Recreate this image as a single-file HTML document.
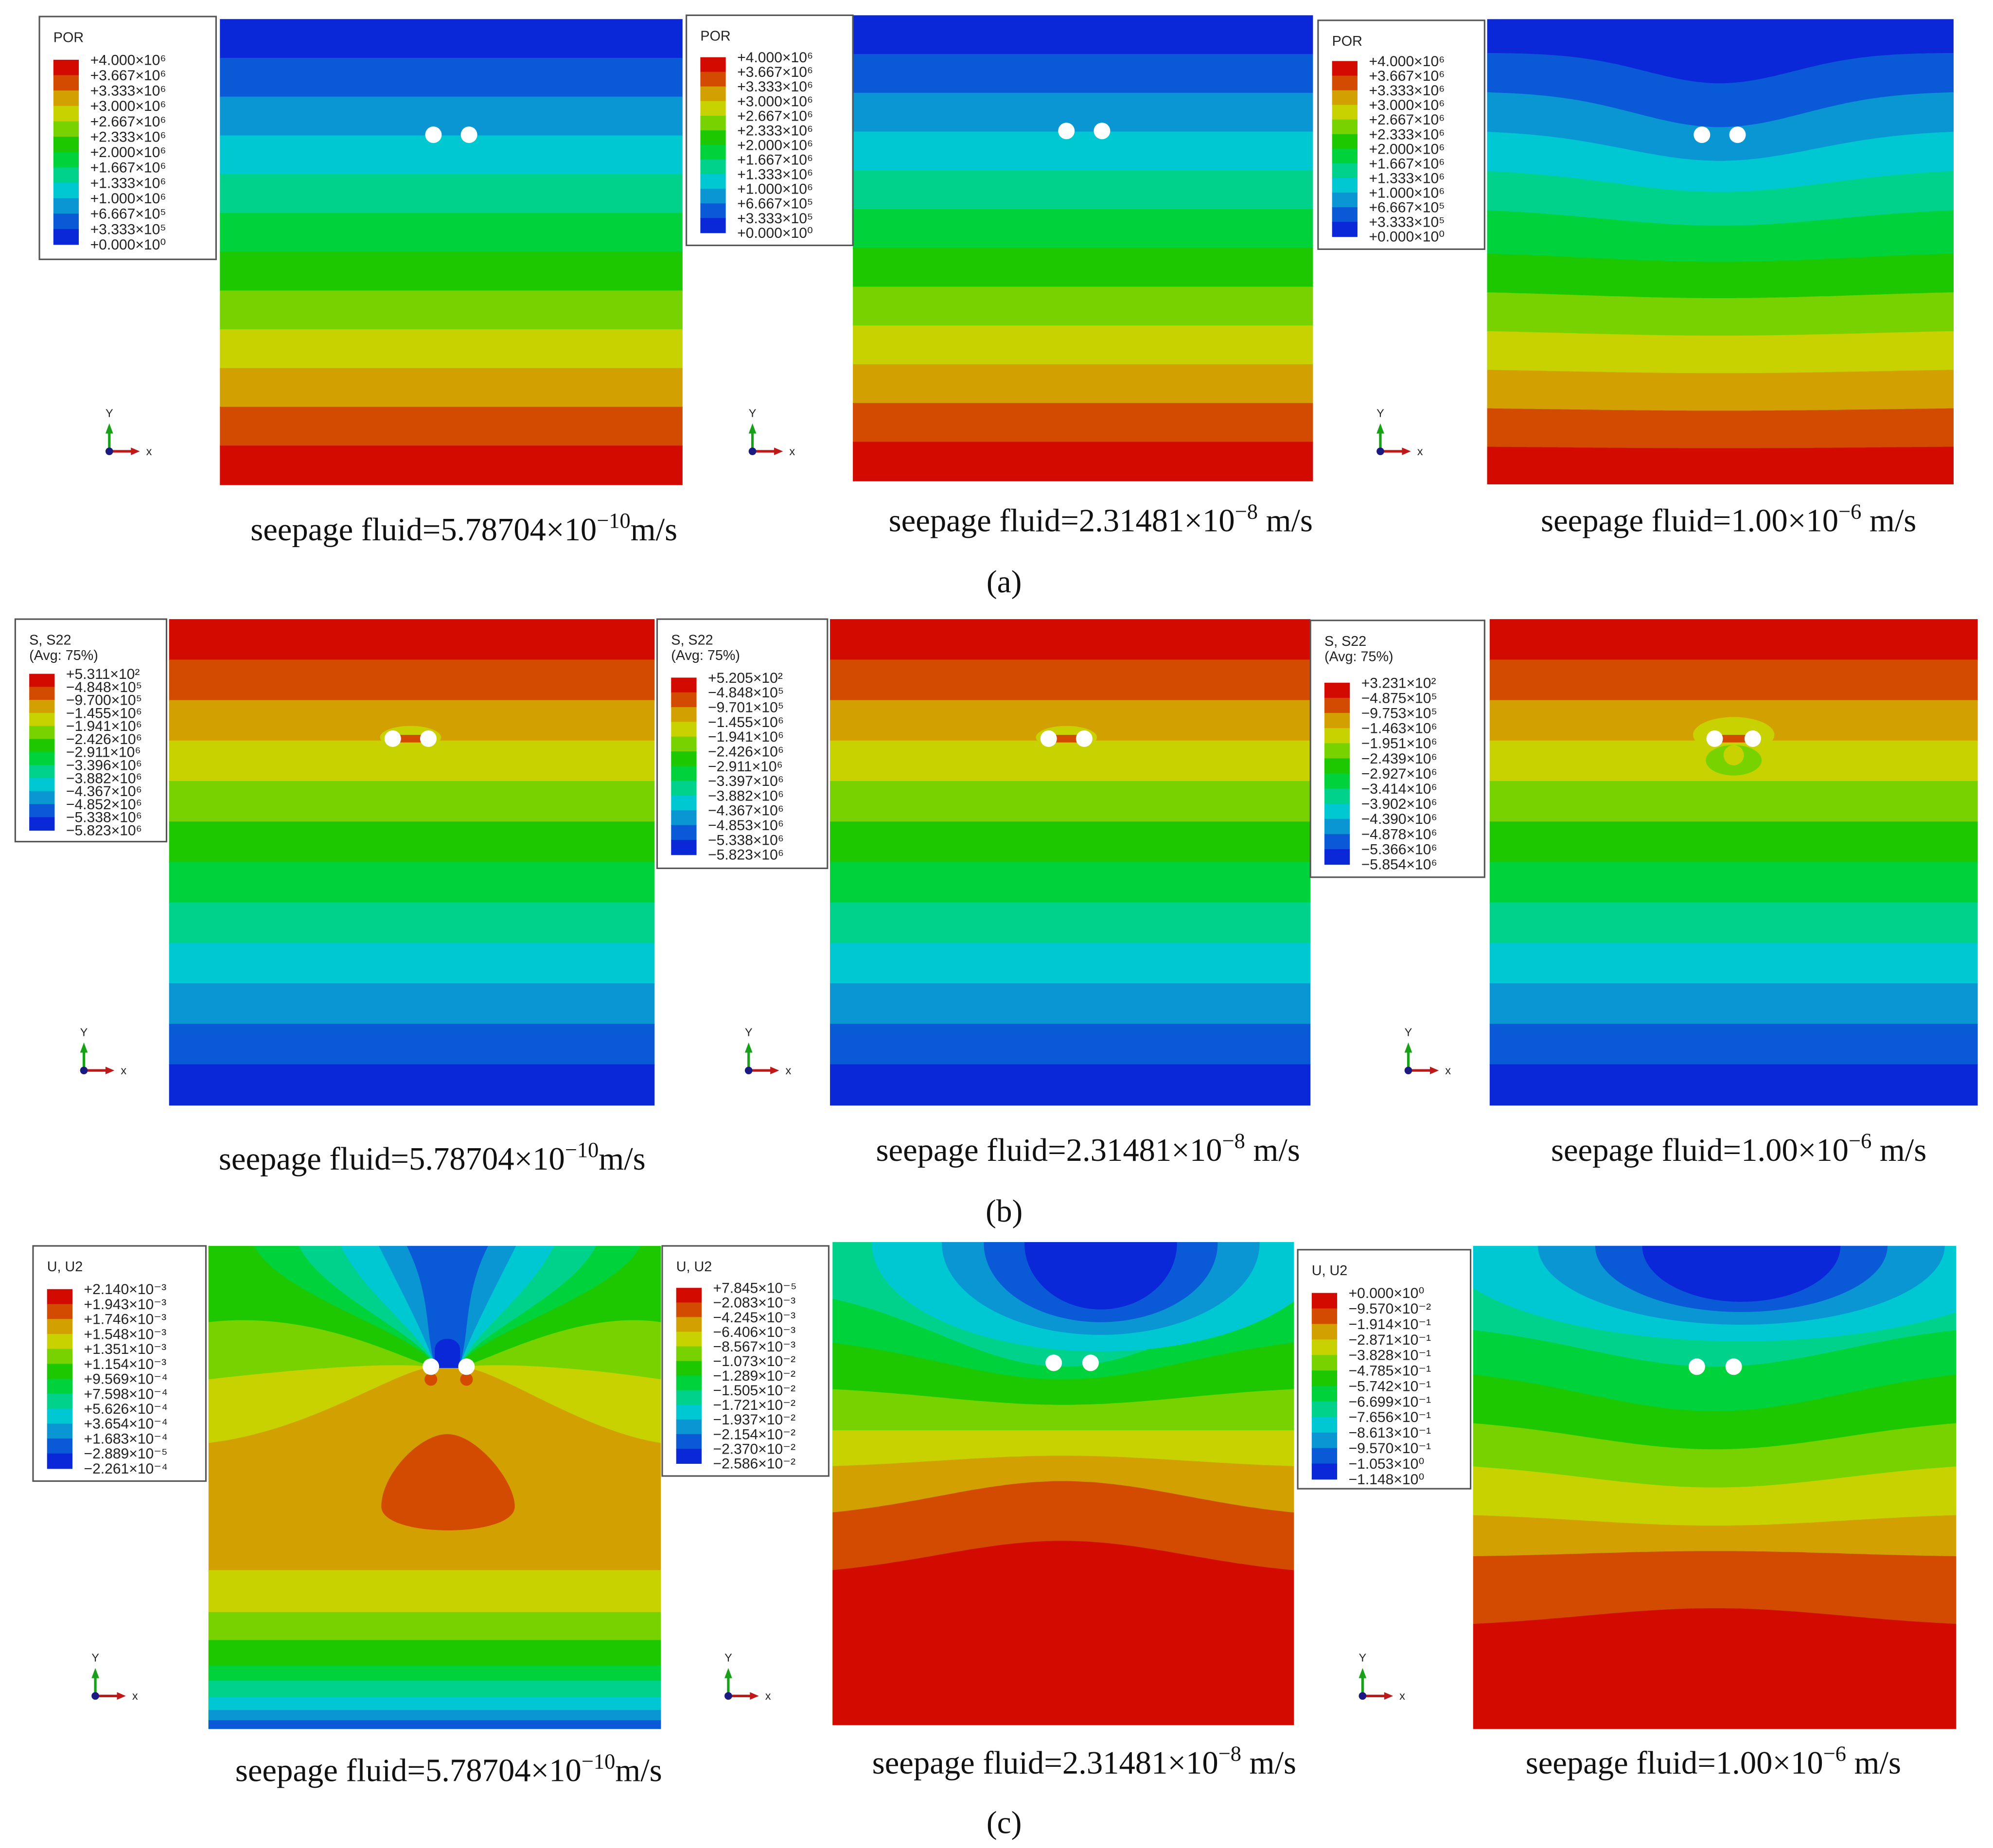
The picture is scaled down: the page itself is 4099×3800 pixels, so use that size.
<!DOCTYPE html>
<html><head><meta charset="utf-8">
<style>
html,body{margin:0;padding:0;background:#fff;}
svg{display:block;}
</style></head>
<body>
<svg id="fig" xmlns="http://www.w3.org/2000/svg" width="4099" height="3800" viewBox="0 0 1568 1453.6" preserveAspectRatio="none">
<rect x="0" y="0" width="1568" height="1454" fill="#fff"/>
<defs>
<clipPath id="clipC2"><rect x="655" y="977" width="363" height="380"/></clipPath>
<clipPath id="clipC3"><rect x="1159" y="980" width="380" height="380"/></clipPath>
<clipPath id="clipC1"><rect x="164" y="980" width="356" height="380"/></clipPath>
<clipPath id="clipA3"><rect x="1170" y="15" width="367" height="366"/></clipPath>
</defs>
</svg>
<script>
const NS='http://www.w3.org/2000/svg';
const svg=document.getElementById('fig');
// contour colour scale (index 0 = minimum/blue, 11 = maximum/red)
const bandColors=["#0a28d8","#0a5ad8","#0a96d2","#00c8d2","#00d28c","#00d23c","#1ec800","#78d200","#c8d200","#d2a000","#d24b00","#d20a00"];
// legend labels
const legendA=["+4.000×10⁶","+3.667×10⁶","+3.333×10⁶","+3.000×10⁶","+2.667×10⁶","+2.333×10⁶","+2.000×10⁶","+1.667×10⁶","+1.333×10⁶","+1.000×10⁶","+6.667×10⁵","+3.333×10⁵","+0.000×10⁰"];
const legendB1=["+5.311×10²","−4.848×10⁵","−9.700×10⁵","−1.455×10⁶","−1.941×10⁶","−2.426×10⁶","−2.911×10⁶","−3.396×10⁶","−3.882×10⁶","−4.367×10⁶","−4.852×10⁶","−5.338×10⁶","−5.823×10⁶"];
const legendB2=["+5.205×10²","−4.848×10⁵","−9.701×10⁵","−1.455×10⁶","−1.941×10⁶","−2.426×10⁶","−2.911×10⁶","−3.397×10⁶","−3.882×10⁶","−4.367×10⁶","−4.853×10⁶","−5.338×10⁶","−5.823×10⁶"];
const legendB3=["+3.231×10²","−4.875×10⁵","−9.753×10⁵","−1.463×10⁶","−1.951×10⁶","−2.439×10⁶","−2.927×10⁶","−3.414×10⁶","−3.902×10⁶","−4.390×10⁶","−4.878×10⁶","−5.366×10⁶","−5.854×10⁶"];
const legendC1=["+2.140×10⁻³","+1.943×10⁻³","+1.746×10⁻³","+1.548×10⁻³","+1.351×10⁻³","+1.154×10⁻³","+9.569×10⁻⁴","+7.598×10⁻⁴","+5.626×10⁻⁴","+3.654×10⁻⁴","+1.683×10⁻⁴","−2.889×10⁻⁵","−2.261×10⁻⁴"];
const legendC2=["+7.845×10⁻⁵","−2.083×10⁻³","−4.245×10⁻³","−6.406×10⁻³","−8.567×10⁻³","−1.073×10⁻²","−1.289×10⁻²","−1.505×10⁻²","−1.721×10⁻²","−1.937×10⁻²","−2.154×10⁻²","−2.370×10⁻²","−2.586×10⁻²"];
const legendC3=["+0.000×10⁰","−9.570×10⁻²","−1.914×10⁻¹","−2.871×10⁻¹","−3.828×10⁻¹","−4.785×10⁻¹","−5.742×10⁻¹","−6.699×10⁻¹","−7.656×10⁻¹","−8.613×10⁻¹","−9.570×10⁻¹","−1.053×10⁰","−1.148×10⁰"];
// arched band boundaries for U2 plots: [edge y, centre y]
const c2Edge=[1010,1050,1090,1125,1155,1195,1240];
const c2Center=[1075,1085,1105,1125,1145,1165,1212];
const c3Edge=[1040,1075,1115,1150,1190,1225,1280];
const c3Center=[1075,1110,1140,1170,1200,1220,1265];
// a3 band dips (px) at the centre for each boundary
const a3Dip=[20,24,20,14,10,8,6,5,4,3,2];

function mk(tag,attrs,parent){const e=document.createElementNS(NS,tag);for(const k in attrs)e.setAttribute(k,attrs[k]);(parent||svg).appendChild(e);return e;}
function xsteps(x,w,st){const a=[];for(let xx=x;xx<x+w;xx+=st)a.push(xx);a.push(x+w);return a;}

function flatBands(x,y,w,h,reverse,name){
  const g=mk('g',{});
  
  
  const bh=h/12;
  for(let i=0;i<12;i++){
    const c=reverse?bandColors[11-i]:bandColors[i];
    const r=mk('rect',{x:x,y:y+i*bh,width:w,height:bh+0.6,fill:c},g);
    
    
  }
  return g;
}
function holes(pts,name){
  pts.forEach(p=>{
    const c=mk('circle',{cx:p[0],cy:p[1],r:6.5,fill:'#fff'});
    
    
  });
}
function legend(x,y,w,h,titles,labels,swTop,swH,name){
  const g=mk('g',{});
  
  
  mk('rect',{x:x,y:y,width:w,height:h,fill:'#fff',stroke:'#555','stroke-width':1.2},g);
  titles.forEach((t,i)=>{
    const tx=mk('text',{x:x+11,y:y+20+i*12,'font-family':'Liberation Sans, sans-serif','font-size':11,fill:'#222'},g);
    tx.textContent=t;
    
    
  });
  for(let i=0;i<12;i++){
    const r=mk('rect',{x:x+11,y:swTop+i*swH,width:20,height:swH+0.4,fill:bandColors[11-i]},g);
    
    
  }
  labels.forEach((t,i)=>{
    const tx=mk('text',{x:x+40,y:swTop+i*swH+4,'font-family':'Liberation Sans, sans-serif','font-size':11.5,fill:'#222'},g);
    tx.textContent=t;
    
    
  });
}
function triad(x,y){
  const g=mk('g',{});
  
  
  mk('line',{x1:x,y1:y,x2:x,y2:y-18,stroke:'#18a018','stroke-width':2},g);
  mk('polygon',{points:`${x-3},${y-14} ${x+3},${y-14} ${x},${y-22}`,fill:'#18a018'},g);
  mk('line',{x1:x,y1:y,x2:x+20,y2:y,stroke:'#c01818','stroke-width':2},g);
  mk('polygon',{points:`${x+17},${y-3} ${x+17},${y+3} ${x+24},${y}`,fill:'#c01818'},g);
  mk('circle',{cx:x,cy:y,r:3,fill:'#1a1a80'},g);
  const ty=mk('text',{x:x-3,y:y-27,'font-family':'Liberation Sans, sans-serif','font-size':9,fill:'#222'},g);ty.textContent='Y';
  const tx=mk('text',{x:x+29,y:y+3,'font-family':'Liberation Sans, sans-serif','font-size':9,fill:'#222'},g);tx.textContent='x';
}
function caption(cx,y,exp,name){
  const t=mk('text',{x:cx,y:y,'text-anchor':'middle','font-family':'Liberation Serif, serif','font-size':25.5,fill:'#111'});
  
  
  const a=mk('tspan',{},t);a.textContent=exp[0];
  const b=mk('tspan',{dy:-10,'font-size':17},t);b.textContent=exp[1];
  const c=mk('tspan',{dy:10},t);c.textContent=exp[2];
}
function label(x,y,s,name){
  const t=mk('text',{x:x,y:y,'text-anchor':'middle','font-family':'Liberation Serif, serif','font-size':25,fill:'#111'});
  t.textContent=s;
  
  
}
function archBands(x,w,bottom,cx,edges,centers,clip,name){
  const g=mk('g',{'clip-path':`url(#${clip})`});
  
  
  const cols=["#00d23c","#1ec800","#78d200","#c8d200","#d2a000","#d24b00","#d20a00"];
  for(let k=0;k<edges.length;k++){
    let d='';
    xsteps(x,w,4).forEach((xx,i)=>{
      const f=Math.exp(-Math.pow((xx-cx)/(w*0.38),2));
      const yy=edges[k]+(centers[k]-edges[k])*f;
      d+=(i===0?'M':'L')+xx+','+yy.toFixed(1);
    });
    d+=`L${x+w},${bottom}L${x},${bottom}Z`;
    const p=mk('path',{d:d,fill:cols[k]},g);
    
    
  }
  return g;
}
function blob(cx,cy,rings,clip,name){
  const g=mk('g',{'clip-path':`url(#${clip})`});
  
  
  const cols=["#00c8d2","#0a96d2","#0a5ad8","#0a28d8"];
  rings.forEach((r,i)=>{
    const e=mk('ellipse',{cx:cx,cy:cy,rx:r[0],ry:r[1],fill:cols[i]},g);
    
    
  });
}

/* ---------- (a) POR ---------- */
flatBands(173,15,364,366,false,'plot-a1');
holes([[341,106],[369,106]],'hole');
legend(31,13,139,191,['POR'],legendA,47,12.1,'legend-a1');
triad(86,355);
caption(365,425,['seepage fluid=5.78704×10','−10','m/s'],'caption-a1');

flatBands(671,12,362,366,false,'plot-a2');
holes([[839,103],[867,103]],'hole');
legend(540,12,131,181,['POR'],legendA,45,11.5,'legend-a2');
triad(592,355);
caption(866,418,['seepage fluid=2.31481×10','−8',' m/s'],'caption-a2');

(function(){
  const x=1170,y=15,w=367,h=366,cx=1353;
  const g=mk('g',{'clip-path':'url(#clipA3)'});
  
  
  mk('rect',{x:x,y:y,width:w,height:h,fill:bandColors[0]},g);
  for(let k=1;k<12;k++){
    let d='';
    xsteps(x,w,3).forEach((xx,i)=>{
      const f=Math.exp(-Math.pow((xx-cx)/(70+k*12),2));
      const yy=y+k*h/12+a3Dip[k-1]*f-4*(1-f)*(k<6?1:0);
      d+=(i===0?'M':'L')+xx+','+yy.toFixed(1);
    });
    d+=`L${x+w},${y+h}L${x},${y+h}Z`;
    const p=mk('path',{d:d,fill:bandColors[k]},g);
    
    
  }
})();
holes([[1339,106],[1367,106]],'hole');
legend(1037,16,131,180,['POR'],legendA,48,11.5,'legend-a3');
triad(1086,355);
caption(1360,418,['seepage fluid=1.00×10','−6',' m/s'],'caption-a3');
label(790,466,'(a)','panel-label-a');

/* ---------- (b) S22 ---------- */
flatBands(133,487,382,382,true,'plot-b1');
mk('ellipse',{cx:323,cy:580,rx:24,ry:9,fill:'#c8d200'});
mk('rect',{x:313,y:578,width:20,height:6,fill:'#d24b00'});
holes([[309,581],[337,581]],'hole');
legend(12,487,119,175,['S, S22','(Avg: 75%)'],legendB1,530,10.25,'legend-b1');
triad(66,842);
caption(340,920,['seepage fluid=5.78704×10','−10','m/s'],'caption-b1');

flatBands(653,487,378,382,true,'plot-b2');
mk('ellipse',{cx:839,cy:580,rx:24,ry:9,fill:'#c8d200'});
mk('rect',{x:829,y:578,width:20,height:6,fill:'#d24b00'});
holes([[825,581],[853,581]],'hole');
legend(517,487,134,196,['S, S22','(Avg: 75%)'],legendB2,533,11.6,'legend-b2');
triad(589,842);
caption(856,913,['seepage fluid=2.31481×10','−8',' m/s'],'caption-b2');

flatBands(1172,487,384,382,true,'plot-b3');
mk('ellipse',{cx:1364,cy:578,rx:32,ry:14,fill:'#c8d200'});
mk('ellipse',{cx:1364,cy:598,rx:22,ry:12,fill:'#78d200'});
mk('circle',{cx:1364,cy:594,r:8,fill:'#c8d200'});
mk('rect',{x:1353,y:578,width:22,height:6,fill:'#d24b00'});
holes([[1349,581],[1379,581]],'hole');
legend(1031,488,137,202,['S, S22','(Avg: 75%)'],legendB3,537,11.9,'legend-b3');
triad(1108,842);
caption(1368,913,['seepage fluid=1.00×10','−6',' m/s'],'caption-b3');
label(790,961,'(b)','panel-label-b');

/* ---------- (c) U2 ---------- */
(function(){
  const g=mk('g',{'clip-path':'url(#clipC1)'});
  
  
  mk('rect',{x:164,y:980,width:356,height:380,fill:'#d2a000'},g);
  const hx=352,hy=1076;
  const side=[[1135,'#c8d200'],[1085,'#78d200'],[1040,'#1ec800']];
  side.forEach(s=>{
    const yl=s[0];
    const d=`M164,980L164,${yl}C${250},${yl-10} ${320},${hy-5} ${hx-8},${hy}L${hx+8},${hy}C${384},${hy-5} ${454},${yl-10} 520,${yl}L520,980Z`;
    const p=mk('path',{d:d,fill:s[1]},g);
    
    
  });
  const top=[[200,'#00d23c'],[235,'#00d28c'],[268,'#00c8d2'],[298,'#0a96d2'],[320,'#0a5ad8']];
  top.forEach(t=>{
    const xl=t[0],xr=2*hx-xl;
    const d=`M${xl},980C${xl+20},1020 ${hx-18},1050 ${hx-9},${hy}L${hx+9},${hy}C${hx+18},1050 ${xr-20},1020 ${xr},980Z`;
    const p=mk('path',{d:d,fill:t[1]},g);
    
    
  });
  const dk=mk('path',{d:`M342,1062C342,1050 362,1050 362,1062L362,1076L342,1076Z`,fill:'#0a28d8'},g);
  
  
  const r=mk('path',{d:'M300,1185C300,1160 330,1128 352,1128C375,1128 405,1165 405,1185C405,1210 300,1210 300,1185Z',fill:'#d24b00'},g);
  
  
  mk('circle',{cx:339,cy:1085,r:5,fill:'#d24b00'},g);
  mk('circle',{cx:367,cy:1085,r:5,fill:'#d24b00'},g);
  const bot=[[1235,'#c8d200'],[1268,'#78d200'],[1290,'#1ec800'],[1310,'#00d23c'],[1322,'#00d28c'],[1335,'#00c8d2'],[1345,'#0a96d2'],[1353,'#0a5ad8']];
  bot.forEach(b=>{
    const p=mk('rect',{x:164,y:b[0],width:356,height:1360-b[0],fill:b[1]},g);
    
    
  });
})();
holes([[339,1075],[367,1075]],'hole');
legend(26,980,136,185,['U, U2'],legendC1,1014,11.75,'legend-c1');
triad(75,1334);
caption(353,1401,['seepage fluid=5.78704×10','−10','m/s'],'caption-c1');

mk('rect',{x:655,y:977,width:363,height:380,fill:'#00d28c'});
archBands(655,363,1357,836,c2Edge,c2Center,'clipC2','plot-c2');
blob(866,978,[[180,85],[125,72],[92,62],[60,52]],'clipC2','top-blob-c2');
holes([[829,1072],[858,1072]],'hole');
legend(521,980,131,181,['U, U2'],legendC2,1013,11.5,'legend-c2');
triad(573,1334);
caption(853,1395,['seepage fluid=2.31481×10','−8',' m/s'],'caption-c2');

mk('rect',{x:1159,y:980,width:380,height:380,fill:'#00d28c'});
archBands(1159,380,1360,1349,c3Edge,c3Center,'clipC3','plot-c3');
blob(1370,980,[[235,75],[160,62],[115,52],[78,44]],'clipC3','top-blob-c3');
holes([[1335,1075],[1364,1075]],'hole');
legend(1021,983,136,188,['U, U2'],legendC3,1017,12.2,'legend-c3');
triad(1072,1334);
caption(1348,1395,['seepage fluid=1.00×10','−6',' m/s'],'caption-c3');
label(790,1442,'(c)','panel-label-c');
</script>
</body></html>
